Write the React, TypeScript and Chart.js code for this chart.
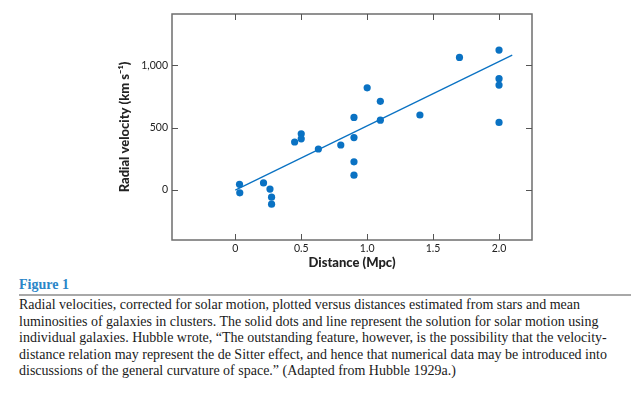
import React, { useEffect, useRef } from "react";
import { Chart, registerables } from "chart.js";

Chart.register(...registerables);

const distances = [0.032, 0.034, 0.214, 0.263, 0.275, 0.275, 0.45, 0.5, 0.5, 0.63, 0.8, 0.9, 0.9, 0.9, 0.9, 1.0, 1.1, 1.1, 1.4, 1.7, 2.0, 2.0, 2.0, 2.0];
const velocities = [46, -22, 57, 8, -57, -113, 385, 450, 410, 329, 361, 119, 226, 420, 582, 819, 711, 560, 601, 1062, 1121, 892, 841, 542];
const fitDistances = [0, 2.1];
const fitVelocities = [0, 1081];
const xTickValues = [0, 0.5, 1.0, 1.5, 2.0];
const xTickLabels = ["0", "0.5", "1.0", "1.5", "2.0"];
const yTickValues = [0, 500, 1000];
const yTickLabels = ["0", "500", "1,000"];
const xTitle = "Distance (Mpc)";
const yTitle = "Radial velocity (km s\u207B\u00B9)";
const captionTitle = "Figure 1";
const captionLines = [
  "Radial velocities, corrected for solar motion, plotted versus distances estimated from stars and mean",
  "luminosities of galaxies in clusters. The solid dots and line represent the solution for solar motion using",
  "individual galaxies. Hubble wrote, \u201CThe outstanding feature, however, is the possibility that the velocity-",
  "distance relation may represent the de Sitter effect, and hence that numerical data may be introduced into",
  "discussions of the general curvature of space.\u201D (Adapted from Hubble 1929a.)",
];

const BLUE = "#0a72c3";
const AXIS_FONT = "Lato, 'Open Sans', sans-serif";

const framePlugin = {
  id: "frame",
  beforeDatasetsDraw(chart: any) {
    const { ctx, chartArea } = chart;
    const { left, right, top, bottom } = chartArea;
    const xs = chart.scales.x;
    const ys = chart.scales.y;
    ctx.save();
    ctx.strokeStyle = "#6e6e6e";
    ctx.lineWidth = 1.5;
    ctx.strokeRect(left, top, right - left, bottom - top);
    ctx.lineWidth = 1;
    ctx.strokeStyle = "#555";
    const tl = 6;
    ctx.beginPath();
    xTickValues.forEach((v) => {
      const px = Math.round(xs.getPixelForValue(v)) + 0.5;
      ctx.moveTo(px, top);
      ctx.lineTo(px, top + tl);
      ctx.moveTo(px, bottom);
      ctx.lineTo(px, bottom - tl);
    });
    yTickValues.forEach((v) => {
      const py = Math.round(ys.getPixelForValue(v)) + 0.5;
      ctx.moveTo(left, py);
      ctx.lineTo(left + tl, py);
      ctx.moveTo(right, py);
      ctx.lineTo(right - tl, py);
    });
    ctx.stroke();
    ctx.restore();
  },
  afterDraw(chart: any) {
    const { ctx, chartArea } = chart;
    ctx.save();
    ctx.fillStyle = "#222";
    ctx.font = "900 13px " + AXIS_FONT;
    ctx.textAlign = "center";
    ctx.textBaseline = "middle";
    ctx.fillText(xTitle, (chartArea.left + chartArea.right) / 2, 263);
    ctx.translate(125, (chartArea.top + chartArea.bottom) / 2);
    ctx.rotate(-Math.PI / 2);
    ctx.fillText(yTitle, 0, 0);
    ctx.restore();
  },
};

export default function App() {
  const ref = useRef<HTMLCanvasElement | null>(null);
  useEffect(() => {
    if (!ref.current) return;
    const chart = new Chart(ref.current, {
      type: "scatter",
      data: {
        datasets: [
          {
            type: "line",
            data: fitDistances.map((d, i) => ({ x: d, y: fitVelocities[i] })),
            borderColor: BLUE,
            borderWidth: 1.3,
            pointRadius: 0,
            fill: false,
          } as any,
          {
            data: distances.map((d, i) => ({ x: d, y: velocities[i] })),
            backgroundColor: BLUE,
            borderWidth: 0,
            pointRadius: 3.6,
          },
        ],
      },
      options: {
        responsive: false,
        animation: false,
        layout: { padding: { left: 0, right: 106, top: 14, bottom: 0 } },
        plugins: { legend: { display: false }, tooltip: { enabled: false } },
        scales: {
          x: {
            type: "linear",
            position: "bottom",
            min: -0.48,
            max: 2.25,
            grid: { display: false, drawTicks: false },
            border: { display: false },
            afterBuildTicks: (s: any) => {
              s.ticks = xTickValues.map((v) => ({ value: v }));
            },
            afterFit: (s: any) => {
              s.height = 32;
            },
            ticks: {
              padding: 2,
              color: "#222",
              font: { family: AXIS_FONT, size: 10.5 },
              callback: (v: any) => xTickLabels[xTickValues.indexOf(Number(v))] ?? "",
            },
          },
          y: {
            type: "linear",
            position: "left",
            min: -400,
            max: 1410,
            grid: { display: false, drawTicks: false },
            border: { display: false },
            afterBuildTicks: (s: any) => {
              s.ticks = yTickValues.map((v) => ({ value: v }));
            },
            afterFit: (s: any) => {
              s.width = 172;
            },
            ticks: {
              padding: 4,
              color: "#222",
              font: { family: AXIS_FONT, size: 10.5 },
              callback: (v: any) => yTickLabels[yTickValues.indexOf(Number(v))] ?? "",
            },
          },
        },
      },
      plugins: [framePlugin],
    } as any);
    return () => chart.destroy();
  }, []);

  return (
    <div style={{ position: "absolute", left: 0, top: 0, width: 638, height: 398, background: "#fff" }}>
      <canvas ref={ref} width={638} height={272} style={{ position: "absolute", left: 0, top: 0 }} />
      <div
        style={{
          position: "absolute",
          left: 19,
          top: 276,
          fontFamily: "'Liberation Serif', 'Times New Roman', serif",
          fontWeight: "bold",
          fontSize: 14,
          lineHeight: "18px",
          color: "#2a86c8",
        }}
      >
        {captionTitle}
      </div>
      <div style={{ position: "absolute", left: 19, top: 294, width: 612, height: 2, background: "#a8a8a8" }} />
      <div
        style={{
          position: "absolute",
          left: 19,
          top: 297,
          fontFamily: "'Liberation Serif', 'Times New Roman', serif",
          fontSize: 14,
          lineHeight: "16.5px",
          color: "#1a1a1a",
          whiteSpace: "nowrap",
        }}
      >
        {captionLines.map((l, i) => (
          <div key={i}>{l}</div>
        ))}
      </div>
    </div>
  );
}
